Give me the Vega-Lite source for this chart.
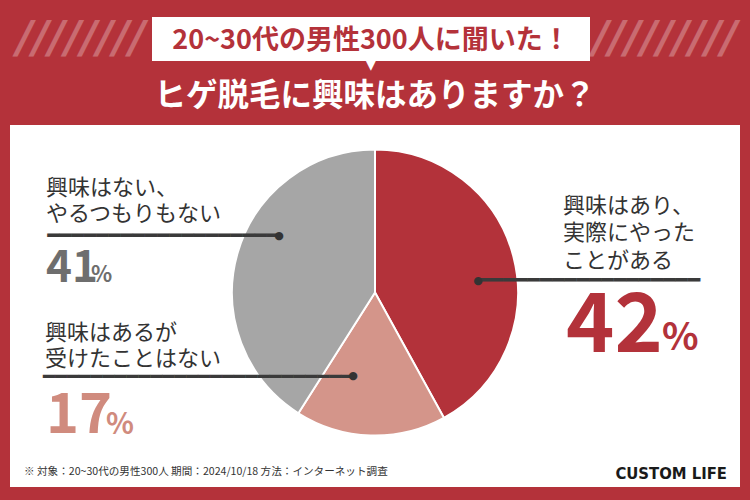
{
  "$schema": "https://vega.github.io/schema/vega-lite/v6.json",
  "background": "#b4323a",
  "padding": {"top": 17, "left": 10, "right": 10, "bottom": 13},
  "spacing": 8,
  "vconcat": [
    {
      "spacing": 0,
      "hconcat": [
        {
          "width": 142,
          "height": 44,
          "view": {"stroke": null},
          "data": {"values": [{"stripes": "////////"}]},
          "mark": {"type": "text", "font": "DejaVu Sans", "fontWeight": "bold", "fontStyle": "italic", "fontSize": 44, "color": "#ffffff", "opacity": 0.28, "align": "center", "baseline": "middle", "dy": 1},
          "encoding": {"text": {"field": "stripes"}}
        },
        {
          "width": 438,
          "height": 44,
          "view": {"fill": "#ffffff", "stroke": null},
          "data": {"values": [{"headline": "20~30代の男性300人に聞いた！"}]},
          "layer": [
            {"mark": {"type": "text", "font": "Noto Sans CJK JP", "fontWeight": "bold", "fontSize": 27, "color": "#b4323a", "baseline": "middle", "dy": 2}, "encoding": {"text": {"field": "headline"}}},
            {"mark": {"type": "text", "font": "DejaVu Sans", "fontSize": 14, "color": "#ffffff", "baseline": "middle", "dy": 26}, "encoding": {"text": {"value": "▼"}}}
          ]
        },
        {
          "width": 150,
          "height": 44,
          "view": {"stroke": null},
          "data": {"values": [{"stripes": "/////////"}]},
          "mark": {"type": "text", "font": "DejaVu Sans", "fontWeight": "bold", "fontStyle": "italic", "fontSize": 44, "color": "#ffffff", "opacity": 0.28, "align": "center", "baseline": "middle", "dy": 1},
          "encoding": {"text": {"field": "stripes"}}
        }
      ]
    },
    {
      "spacing": 0,
      "bounds": "flush",
      "vconcat": [
        {
          "width": 730,
          "height": 335,
          "view": {"fill": "#ffffff", "stroke": null},
          "title": {"text": "ヒゲ脱毛に興味はありますか？", "color": "#ffffff", "fontSize": 31.5, "font": "Noto Sans CJK JP", "fontWeight": "bold", "anchor": "middle", "offset": 13},
          "data": {"values": [
            {"category": "興味はあり、実際にやったことがある", "label": "興味はあり、\n実際にやった\nことがある", "value": 42, "order": 1},
            {"category": "興味はあるが受けたことはない", "label": "興味はあるが\n受けたことはない", "value": 17, "order": 2},
            {"category": "興味はない、やるつもりもない", "label": "興味はない、\nやるつもりもない", "value": 41, "order": 3}
          ]},
          "transform": [{"stack": "value", "groupby": [], "sort": [{"field": "order", "order": "ascending"}], "as": ["v0", "v1"]}],
          "layer": [
            {"mark": {"type": "arc", "radius": 143, "stroke": "#ffffff", "strokeWidth": 2},
             "encoding": {
               "theta": {"field": "v0", "type": "quantitative", "scale": {"domain": [0, 100]}},
               "theta2": {"field": "v1"},
               "color": {"field": "category", "type": "nominal", "legend": null, "scale": {"domain": ["興味はあり、実際にやったことがある", "興味はあるが受けたことはない", "興味はない、やるつもりもない"], "range": ["#b3323a", "#d4958a", "#a6a6a6"]}}
             }},

            {"transform": [{"filter": "datum.order === 1"}],
             "mark": {"type": "text", "radius": 106, "font": "DejaVu Sans Mono", "fontSize": 20.49, "color": "#3a3a3a", "align": "left", "baseline": "middle", "dx": 103, "dy": 94},
             "encoding": {"theta": {"field": "v0", "type": "quantitative"}, "text": {"value": "━━━━━━━━━━━━━━━━━━"}}},
            {"transform": [{"filter": "datum.order === 2"}],
             "mark": {"type": "text", "radius": 106, "font": "DejaVu Sans Mono", "fontSize": 19.81, "color": "#3a3a3a", "align": "right", "baseline": "middle", "dx": 34.8, "dy": -5},
             "encoding": {"theta": {"field": "v1", "type": "quantitative"}, "text": {"value": "━━━━━━━━━━━━━━━━━━━━━━━━━━"}}},
            {"transform": [{"filter": "datum.order === 3"}],
             "mark": {"type": "text", "radius": 106, "font": "DejaVu Sans Mono", "fontSize": 20.28, "color": "#3a3a3a", "align": "right", "baseline": "middle", "dx": -96, "dy": 49.5},
             "encoding": {"theta": {"field": "v1", "type": "quantitative"}, "text": {"value": "━━━━━━━━━━━━━━━━━━━"}}},

            {"transform": [{"filter": "datum.order === 1"}],
             "mark": {"type": "text", "radius": 106, "font": "DejaVu Sans", "fontSize": 11, "color": "#333333", "align": "center", "baseline": "middle", "dx": 103, "dy": 94},
             "encoding": {"theta": {"field": "v0", "type": "quantitative"}, "text": {"value": "●"}}},
            {"transform": [{"filter": "datum.order === 2"}],
             "mark": {"type": "text", "radius": 106, "font": "DejaVu Sans", "fontSize": 11, "color": "#333333", "align": "center", "baseline": "middle", "dx": 34.8, "dy": -5.5},
             "encoding": {"theta": {"field": "v1", "type": "quantitative"}, "text": {"value": "●"}}},
            {"transform": [{"filter": "datum.order === 3"}],
             "mark": {"type": "text", "radius": 106, "font": "DejaVu Sans", "fontSize": 11, "color": "#333333", "align": "center", "baseline": "middle", "dx": -96, "dy": 49.5},
             "encoding": {"theta": {"field": "v1", "type": "quantitative"}, "text": {"value": "●"}}},

            {"transform": [{"filter": "datum.order === 1"}],
             "mark": {"type": "text", "radius": 106, "font": "Noto Sans CJK JP", "fontSize": 22, "lineHeight": 27.5, "lineBreak": "\n", "color": "#333333", "align": "left", "baseline": "middle", "dx": 188, "dy": 19},
             "encoding": {"theta": {"field": "v0", "type": "quantitative"}, "text": {"field": "label"}}},
            {"transform": [{"filter": "datum.order === 2"}],
             "mark": {"type": "text", "radius": 106, "font": "Noto Sans CJK JP", "fontSize": 22, "lineHeight": 26, "lineBreak": "\n", "color": "#333333", "align": "left", "baseline": "middle", "dx": -273.2, "dy": -48.5},
             "encoding": {"theta": {"field": "v1", "type": "quantitative"}, "text": {"field": "label"}}},
            {"transform": [{"filter": "datum.order === 3"}],
             "mark": {"type": "text", "radius": 106, "font": "Noto Sans CJK JP", "fontSize": 22, "lineHeight": 26, "lineBreak": "\n", "color": "#333333", "align": "left", "baseline": "middle", "dx": -329, "dy": 1},
             "encoding": {"theta": {"field": "v1", "type": "quantitative"}, "text": {"field": "label"}}},

            {"transform": [{"filter": "datum.order === 1"}],
             "mark": {"type": "text", "radius": 106, "font": "Noto Sans CJK JP", "fontWeight": "bold", "fontSize": 82, "color": "#b3323a", "align": "left", "baseline": "alphabetic", "dx": 191, "dy": 165.5},
             "encoding": {"theta": {"field": "v0", "type": "quantitative"}, "text": {"field": "value", "type": "quantitative"}}},
            {"transform": [{"filter": "datum.order === 2"}],
             "mark": {"type": "text", "radius": 106, "font": "Noto Sans CJK JP", "fontWeight": "bold", "fontSize": 56, "color": "#d08b7e", "align": "left", "baseline": "alphabetic", "dx": -272.2, "dy": 51},
             "encoding": {"theta": {"field": "v1", "type": "quantitative"}, "text": {"field": "value", "type": "quantitative"}}},
            {"transform": [{"filter": "datum.order === 3"}],
             "mark": {"type": "text", "radius": 106, "font": "Noto Sans CJK JP", "fontWeight": "bold", "fontSize": 44, "color": "#6e6e6e", "align": "left", "baseline": "alphabetic", "dx": -329, "dy": 95.5},
             "encoding": {"theta": {"field": "v1", "type": "quantitative"}, "text": {"field": "value", "type": "quantitative"}}},

            {"transform": [{"filter": "datum.order === 1"}],
             "mark": {"type": "text", "radius": 106, "font": "Noto Sans CJK JP", "fontWeight": "bold", "fontSize": 38, "color": "#b3323a", "align": "left", "baseline": "alphabetic", "dx": 287, "dy": 163.5},
             "encoding": {"theta": {"field": "v0", "type": "quantitative"}, "text": {"value": "%"}}},
            {"transform": [{"filter": "datum.order === 2"}],
             "mark": {"type": "text", "radius": 106, "font": "Noto Sans CJK JP", "fontWeight": "bold", "fontSize": 29, "color": "#d08b7e", "align": "left", "baseline": "alphabetic", "dx": -212.2, "dy": 52},
             "encoding": {"theta": {"field": "v1", "type": "quantitative"}, "text": {"value": "%"}}},
            {"transform": [{"filter": "datum.order === 3"}],
             "mark": {"type": "text", "radius": 106, "font": "Noto Sans CJK JP", "fontWeight": "bold", "fontSize": 22, "color": "#6e6e6e", "align": "left", "baseline": "alphabetic", "dx": -284, "dy": 95.5},
             "encoding": {"theta": {"field": "v1", "type": "quantitative"}, "text": {"value": "%"}}}
          ]
        },
        {
          "width": 730,
          "height": 27,
          "view": {"fill": "#ffffff", "stroke": null},
          "data": {"values": [{"note": "※ 対象：20~30代の男性300人 期間：2024/10/18 方法：インターネット調査", "brand": "CUSTOM LIFE"}]},
          "layer": [
            {"mark": {"type": "text", "align": "left", "baseline": "middle", "dx": -351, "dy": -1.5, "font": "Noto Sans CJK JP", "fontSize": 10.6, "color": "#333333"}, "encoding": {"text": {"field": "note"}}},
            {"mark": {"type": "text", "align": "right", "baseline": "middle", "dx": 352, "font": "DejaVu Sans Condensed, Liberation Sans", "fontWeight": "bold", "fontSize": 16.5, "color": "#1a1a1a"}, "encoding": {"text": {"field": "brand"}}}
          ]
        }
      ]
    }
  ]
}
